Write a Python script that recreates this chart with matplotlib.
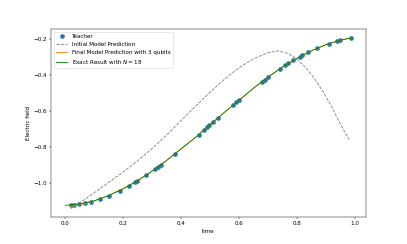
import matplotlib
matplotlib.use("Agg")
import matplotlib.pyplot as plt

# Teacher data points
teacher_t = [0.020, 0.030, 0.048, 0.069, 0.089, 0.120, 0.150, 0.189, 0.220, 0.240,
             0.249, 0.279, 0.309, 0.320, 0.332, 0.379, 0.461, 0.478, 0.488, 0.498,
             0.509, 0.529, 0.579, 0.589, 0.599, 0.680, 0.689, 0.699, 0.740, 0.758,
             0.768, 0.788, 0.809, 0.818, 0.839, 0.869, 0.909, 0.939, 0.948, 0.988]
teacher_y = [-1.122, -1.122, -1.117, -1.111, -1.104, -1.088, -1.071, -1.043, -1.017, -0.998,
             -0.989, -0.959, -0.923, -0.910, -0.900, -0.840, -0.735, -0.708, -0.693, -0.680,
             -0.665, -0.639, -0.567, -0.554, -0.543, -0.439, -0.428, -0.415, -0.369, -0.349,
             -0.337, -0.319, -0.302, -0.292, -0.275, -0.253, -0.228, -0.213, -0.209, -0.196]

# Initial model prediction (gray dashed)
init_t = [0.02, 0.06, 0.10, 0.15, 0.20, 0.25, 0.30, 0.35, 0.40, 0.45, 0.50, 0.55,
          0.60, 0.65, 0.70, 0.735, 0.77, 0.80, 0.83, 0.86, 0.89, 0.92, 0.95, 0.98]
init_y = [-1.143, -1.100, -1.055, -0.998, -0.940, -0.878, -0.810, -0.735, -0.655, -0.575,
          -0.498, -0.425, -0.362, -0.312, -0.278, -0.268, -0.283, -0.315, -0.360, -0.420,
          -0.495, -0.578, -0.675, -0.760]

# Final model prediction (orange)
final_t = [0.02, 0.05, 0.10, 0.15, 0.20, 0.25, 0.30, 0.35, 0.40, 0.45, 0.50, 0.55,
           0.60, 0.65, 0.70, 0.75, 0.80, 0.85, 0.90, 0.95, 0.99]
final_y = [-1.132, -1.122, -1.101, -1.069, -1.031, -0.987, -0.934, -0.876, -0.812, -0.748,
           -0.678, -0.609, -0.543, -0.475, -0.414, -0.358, -0.310, -0.268, -0.234, -0.209,
           -0.195]

# Exact result (green)
exact_t = [0.0, 0.05, 0.10, 0.15, 0.20, 0.25, 0.30, 0.35, 0.40, 0.45, 0.50, 0.55,
           0.60, 0.65, 0.70, 0.75, 0.80, 0.85, 0.90, 0.95, 0.99]
exact_y = [-1.125, -1.117, -1.100, -1.071, -1.034, -0.989, -0.935, -0.876, -0.812, -0.748,
           -0.678, -0.609, -0.543, -0.475, -0.414, -0.358, -0.310, -0.268, -0.234, -0.209,
           -0.195]

fig, ax = plt.subplots(figsize=(10, 6), dpi=40.7)
ax.plot(teacher_t, teacher_y, 'o', color='tab:blue', markersize=7, label='Teacher')
ax.plot(init_t, init_y, '--', color='gray', label='Initial Model Prediction')
ax.plot(final_t, final_y, '-', color='tab:orange', label='Final Model Prediction with 3 qubits')
ax.plot(exact_t, exact_y, '-', color='green', label='Exact Result with $N = 18$')
ax.set_xlabel('time')
ax.set_ylabel('Electric field')
ax.set_yticks([-1.0, -0.8, -0.6, -0.4, -0.2])
ax.legend(loc='upper left')
fig.savefig('out.png', dpi=40.7)
